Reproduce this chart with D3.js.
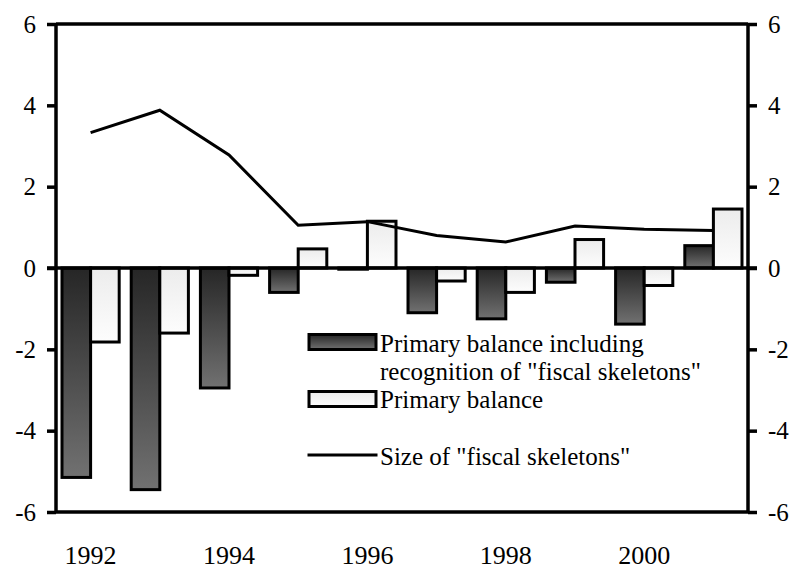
<!DOCTYPE html>
<html>
<head>
<meta charset="utf-8">
<script src="https://cdn.jsdelivr.net/npm/d3@7"></script>
<style>
  body { margin: 0; background: #fff; }
  svg text { font-family: "Liberation Serif", "Times New Roman", Times, serif; }
</style>
</head>
<body>
<div id="chart"></div>
<script>
var years = [1992, 1993, 1994, 1995, 1996, 1997, 1998, 1999, 2000, 2001]
var balanceWithSkeletons = [-5.15, -5.45, -2.95, -0.6, -0.03, -1.1, -1.25, -0.35, -1.38, 0.55]
var primaryBalance = [-1.82, -1.6, -0.18, 0.47, 1.15, -0.32, -0.6, 0.7, -0.43, 1.45]
var skeletonSize = [3.33, 3.88, 2.78, 1.05, 1.14, 0.8, 0.64, 1.03, 0.95, 0.92]
var yTicks = [-6, -4, -2, 0, 2, 4, 6]
var yearLabels = [1992, 1994, 1996, 1998, 2000]
var legendLabels = [
  ['Primary balance including', 'recognition of "fiscal skeletons"'],
  ['Primary balance'],
  ['Size of "fiscal skeletons"']
]

var serif = '"Liberation Serif", "Times New Roman", Times, serif'
var W = 795, H = 569
var margin = { top: 24, right: 47, bottom: 57, left: 56 }
var width = W - margin.left - margin.right
var height = H - margin.top - margin.bottom

var svg = d3.select('#chart').append('svg')
  .attr('width', W)
  .attr('height', H)

var defs = svg.append('defs')
var darkGrad = defs.append('linearGradient')
  .attr('id', 'darkGrad')
  .attr('x1', 0).attr('y1', 0).attr('x2', 0).attr('y2', 1)
darkGrad.append('stop').attr('offset', '0%').attr('stop-color', '#262626')
darkGrad.append('stop').attr('offset', '100%').attr('stop-color', '#717171')

var lightGrad = defs.append('linearGradient')
  .attr('id', 'lightGrad')
  .attr('x1', 0).attr('y1', 0).attr('x2', 0).attr('y2', 1)
lightGrad.append('stop').attr('offset', '0%').attr('stop-color', '#ececec')
lightGrad.append('stop').attr('offset', '100%').attr('stop-color', '#fdfdfd')

var x = d3.scaleBand()
  .domain(years)
  .range([margin.left, margin.left + width])

var sub = d3.scaleBand()
  .domain(['dark', 'light'])
  .range([0, x.bandwidth()])
  .paddingOuter(0.21)

var y = d3.scaleLinear()
  .domain([-6, 6])
  .range([margin.top + height, margin.top])

// bars
var rows = years.map(function(yr, i) {
  return { year: yr, dark: balanceWithSkeletons[i], light: primaryBalance[i] }
})

function barRect(sel, key, fill) {
  sel.selectAll('rect.' + key)
    .data(rows)
    .enter()
      .append('rect')
      .attr('class', key)
      .attr('x', function(d) { return x(d.year) + sub(key) })
      .attr('width', sub.bandwidth())
      .attr('y', function(d) { return y(Math.max(0, d[key])) })
      .attr('height', function(d) { return Math.abs(y(d[key]) - y(0)) })
      .attr('fill', fill)
      .attr('stroke', '#000')
      .attr('stroke-width', 3)
}
var bars = svg.append('g')
barRect(bars, 'dark', 'url(#darkGrad)')
barRect(bars, 'light', 'url(#lightGrad)')

// line
var line = d3.line()
  .x(function(d, i) { return x(years[i]) + x.bandwidth() / 2 })
  .y(function(d) { return y(d) })

svg.append('path')
  .datum(skeletonSize)
  .attr('d', line)
  .attr('fill', 'none')
  .attr('stroke', '#000')
  .attr('stroke-width', 3)

// frame
var frame = svg.append('g')
  .attr('stroke', '#000')
  .attr('stroke-width', 3.5)
frame.append('line')
  .attr('x1', margin.left).attr('x2', margin.left + width)
  .attr('y1', y(6)).attr('y2', y(6))
frame.append('line')
  .attr('x1', margin.left).attr('x2', margin.left + width)
  .attr('y1', y(-6)).attr('y2', y(-6))
frame.append('line')
  .attr('x1', margin.left - 9).attr('x2', margin.left + width + 9)
  .attr('y1', y(0)).attr('y2', y(0))

var fmt = function(d) { return String(d) }
var yAxisL = d3.axisLeft(y).tickValues(yTicks).tickSize(9).tickPadding(11).tickFormat(fmt)
var yAxisR = d3.axisRight(y).tickValues(yTicks).tickSize(9).tickPadding(11).tickFormat(fmt)

var gL = svg.append('g')
  .attr('transform', 'translate(' + margin.left + ',0)')
  .call(yAxisL)
var gR = svg.append('g')
  .attr('transform', 'translate(' + (margin.left + width) + ',0)')
  .call(yAxisR)

;[gL, gR].forEach(function(g) {
  g.attr('font-family', null).attr('font-size', null)
  g.select('.domain').attr('stroke-width', 3.5).attr('d', function() {
    return 'M0,' + y(6) + 'V' + y(-6)
  })
  g.selectAll('.tick line').attr('stroke-width', 3.5)
  g.selectAll('.tick text')
    .style('font-size', '25px')
    .style('font-family', serif)
    .attr('fill', '#000')
})

// x labels
svg.append('g').selectAll('text')
  .data(yearLabels)
  .enter()
    .append('text')
    .attr('x', function(d) { return x(d) + x.bandwidth() / 2 })
    .attr('y', 564)
    .attr('text-anchor', 'middle')
    .style('font-family', serif)
    .style('font-size', '26px')
    .text(function(d) { return d })

// legend
var legend = svg.append('g')
var lx = 309, lw = 67, tx = 380
legend.append('rect')
  .attr('x', lx).attr('y', 334.5).attr('width', lw).attr('height', 15)
  .attr('fill', 'url(#darkGrad)').attr('stroke', '#000').attr('stroke-width', 3)
legend.append('rect')
  .attr('x', lx).attr('y', 391.5).attr('width', lw).attr('height', 15)
  .attr('fill', 'url(#lightGrad)').attr('stroke', '#000').attr('stroke-width', 3)
legend.append('line')
  .attr('x1', lx - 1.5).attr('x2', lx + lw + 1.5)
  .attr('y1', 455).attr('y2', 455)
  .attr('stroke', '#000').attr('stroke-width', 3)

var legendY = [[351.5, 380], [408], [465]]
legendLabels.forEach(function(lines, i) {
  lines.forEach(function(t, j) {
    legend.append('text')
      .attr('x', tx)
      .attr('y', legendY[i][j])
      .style('font-family', serif)
      .style('font-size', '25px')
      .text(t)
  })
})
</script>
</body>
</html>
